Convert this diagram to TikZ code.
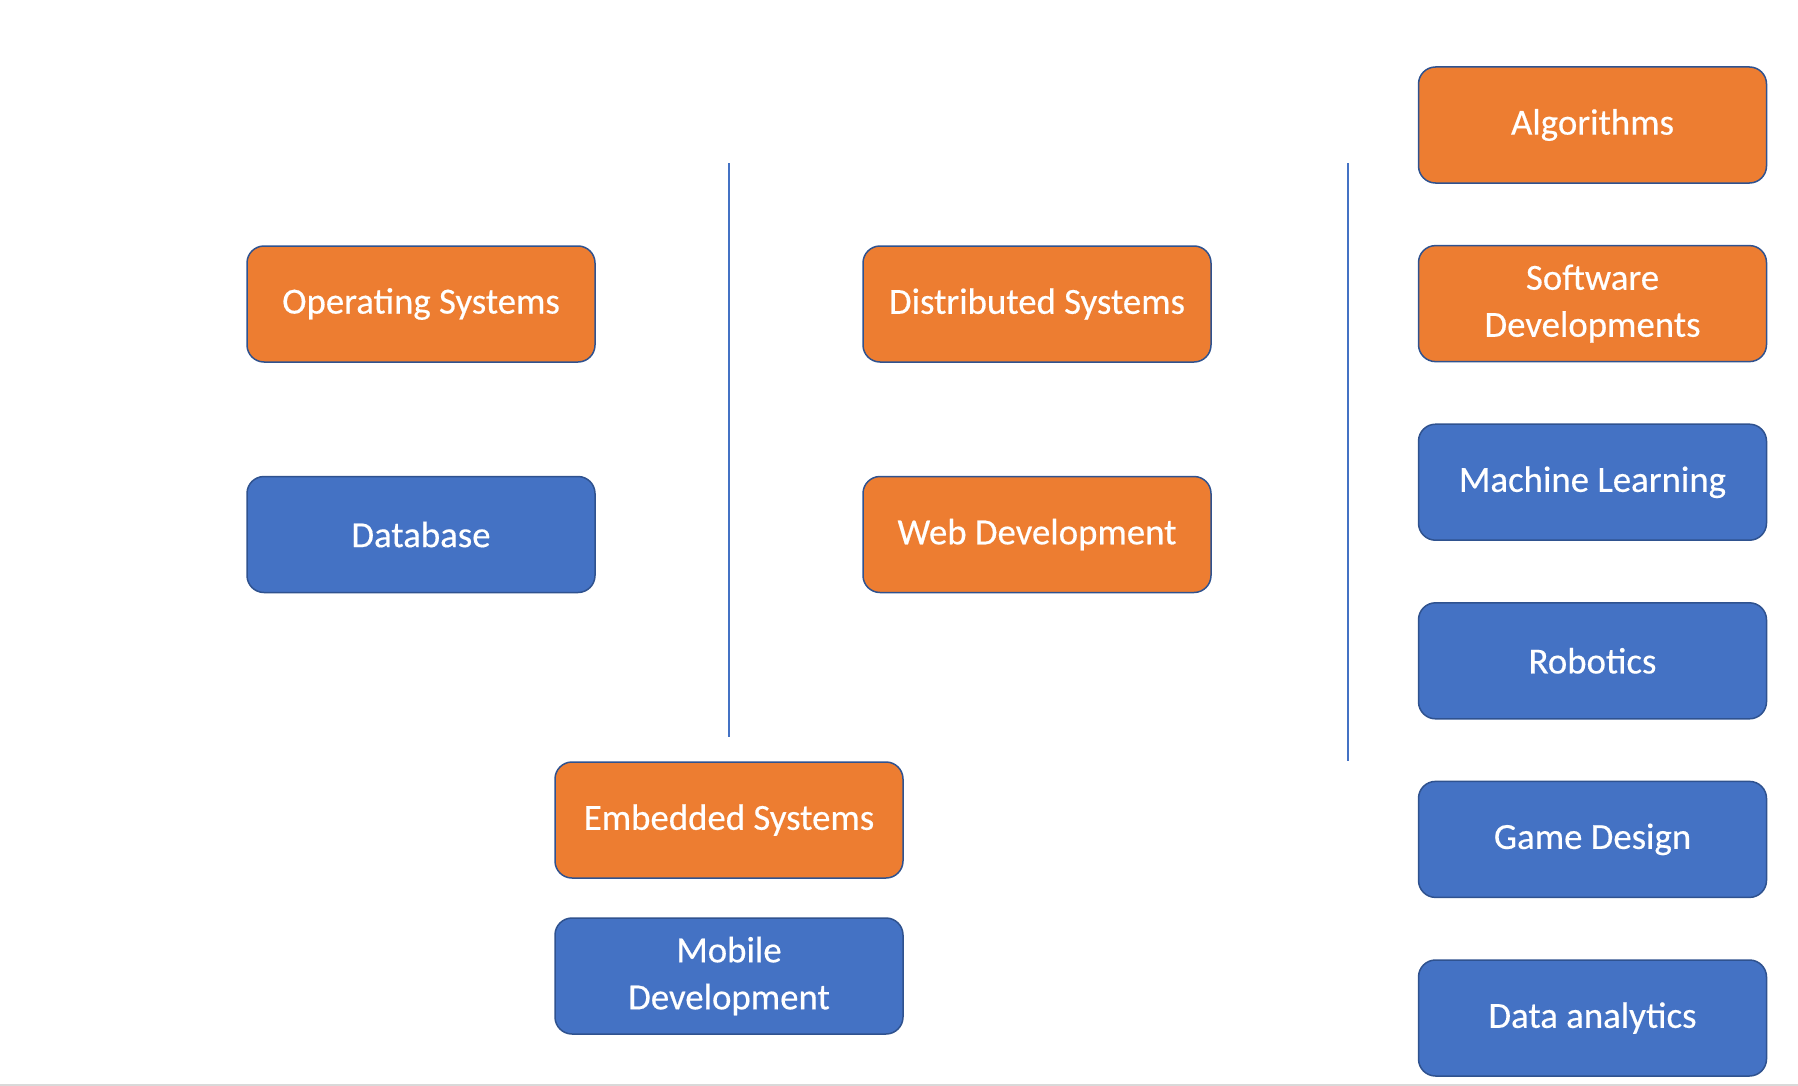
\documentclass[tikz,border=0pt]{standalone}
\usepackage{fontspec}
\setmainfont[FakeBold=0.4]{Carlito}
\usepackage{xcolor}
\usetikzlibrary{positioning}
\definecolor{boxorange}{HTML}{ED7D31}
\definecolor{boxblue}{HTML}{4472C4}
\definecolor{boxedge}{HTML}{2F528F}
\definecolor{pagerule}{HTML}{D9D9D9}
\tikzset{
    box/.style={rectangle, rounded corners=8.5pt, draw=boxedge, line width=0.75pt,
        minimum width=174pt, minimum height=58pt, inner sep=0pt,
        text=white, align=center, font=\fontsize{18.4}{23.5}\selectfont}, % every topic box
    orangebox/.style={box, fill=boxorange},
    bluebox/.style={box, fill=boxblue},
    divider/.style={draw=boxblue, line width=1pt}, % vertical separators
}

\begin{document}
\begin{tikzpicture}[x=1pt, y=1pt, on grid, node distance=89.3pt]
    \useasboundingbox (0,0) rectangle (899,-543);
    \fill[pagerule] (0,-542) rectangle (899,-543);

    % Left column
    \node[orangebox] (os) at (210.5,-152) {Operating Systems};
    \node[bluebox] (db) [below=115.25pt of os] {Database};

    % Middle column
    \node[orangebox] (ds) [right=308pt of os] {Distributed Systems};
    \node[orangebox] (web) [below=115.25pt of ds] {Web Development};

    % Bottom pair
    \node[orangebox] (emb) at (364.5,-410) {Embedded Systems};
    \node[bluebox] (mob) [below=78pt of emb] {Mobile\\Development};

    % Right column
    \node[orangebox] (alg) at (796.25,-62.5) {Algorithms};
    \node[orangebox] (sw) [below=of alg] {Software\\Developments};
    \node[bluebox] (ml) [below=of sw] {Machine Learning};
    \node[bluebox] (rob) [below=of ml] {Robotics};
    \node[bluebox] (game) [below=of rob] {Game Design};
    \node[bluebox] (data) [below=of game] {Data analytics};

    % Separators
    \coordinate (sepAtop) at (364.5,-81.5);
    \coordinate (sepAbot) at (364.5,-368.5);
    \coordinate (sepBtop) at (674,-81.5);
    \coordinate (sepBbot) at (674,-380.5);
    \draw[divider] (sepAtop) -- (sepAbot);
    \draw[divider] (sepBtop) -- (sepBbot);
\end{tikzpicture}
\end{document}
